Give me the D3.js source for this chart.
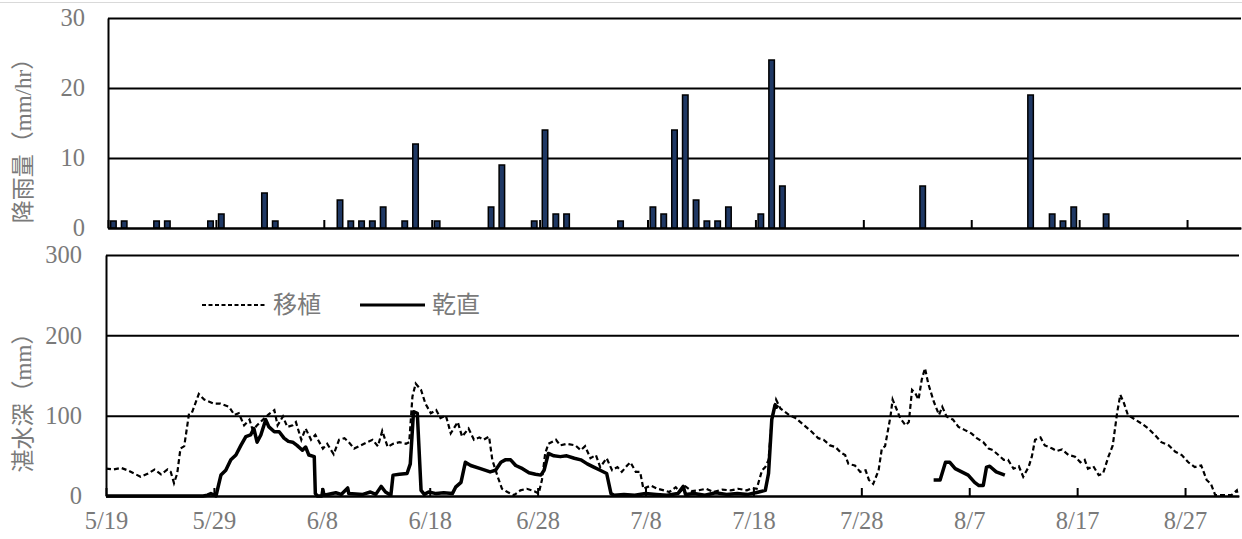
<!DOCTYPE html>
<html>
<head>
<meta charset="utf-8">
<script src="https://cdn.jsdelivr.net/npm/d3@7"></script>
<style>
  html, body { margin: 0; padding: 0; background: #fff; }
  svg { display: block; }
</style>
</head>
<body>
<svg id="chart" width="1242" height="539"></svg>
<script>
// Season year (only month/day are shown)
const year = 2019;

// Daily maximum hourly rainfall (mm/hr)
const rainDates = ['5/19','5/20','5/23','5/24','5/28','5/29','6/2','6/3','6/9','6/10',
  '6/11','6/12','6/13','6/15','6/16','6/18','6/23','6/24','6/27','6/28',
  '6/29','6/30','7/5','7/8','7/9','7/10','7/11','7/12','7/13','7/14',
  '7/15','7/18','7/19','7/20','8/2','8/12','8/14','8/15','8/16','8/19'];
const rainValues = [1,1,1,1,1,2,5,1,4,1,
  1,1,3,1,12,1,3,9,1,14,
  2,2,1,3,2,14,19,4,1,1,
  3,2,24,6,6,19,2,1,3,2];

// Date axis ticks
const tickDates = ['5/19','5/29','6/8','6/18','6/28','7/8','7/18','7/28','8/7','8/17','8/27'];

// Ponding depth (mm), time in days elapsed since 5/19 00:00
const transplantElapsed = [0,0.7,1.4,2.0,2.6,3.2,3.9,4.5,5.1,5.7,6.0,6.3,6.6,6.9,7.25,7.7,8.0,8.6,9.1,10.0,
  10.6,11.4,11.9,12.3,12.8,13.3,13.6,14.0,14.7,15.1,15.6,15.9,16.4,16.8,17.3,17.6,18.1,18.5,19.0,19.4,
  20.1,20.5,21.1,21.6,22.1,22.5,23.0,23.6,24.2,24.7,25.2,25.6,26.1,26.6,27.2,27.8,28.1,28.4,28.7,29.2,
  29.6,30.1,30.6,31.0,31.5,31.95,32.6,33.0,33.6,34.1,34.6,35.0,35.5,35.8,36.3,36.7,37.2,37.8,38.4,39.0,
  39.7,40.1,40.4,40.7,41.0,41.7,42.1,42.7,43.5,44.0,44.4,44.9,45.4,45.8,46.4,46.9,47.4,47.8,48.3,48.6,
  49.1,49.5,49.8,50.5,51.1,51.7,52.2,52.8,53.2,53.7,54.3,54.9,55.6,56.3,57.1,57.9,58.6,59.4,59.9,60.3,
  60.8,61.1,61.4,61.7,62.1,62.5,63.3,63.9,64.7,65.4,66.0,66.5,67.1,67.6,68.1,68.5,68.8,69.4,69.9,70.4,
  70.7,71.1,71.6,71.9,72.2,72.7,72.9,73.3,73.6,74.1,74.4,74.7,75.0,75.3,75.6,75.9,76.2,76.7,77.2,77.5,
  77.9,78.5,79.0,79.6,80.2,80.7,81.3,81.8,82.2,82.7,83.2,83.6,84.1,84.6,85.0,85.5,85.8,86.1,86.6,87.0,
  87.7,88.1,88.6,89.2,89.8,90.3,90.7,91.0,91.5,92.0,92.4,92.9,93.3,93.7,94.0,94.3,94.7,95.4,96.0,96.6,
  97.2,97.8,98.5,99.1,99.7,100.3,100.9,101.5,102.0,102.4,102.8,103.7,104.3,104.8,104.9];
const transplantDepth = [34,33,35,32,28,24,28,33,27,33,30,16,28,59,62,103,105,127,120,115,
  115,111,101,103,88,95,82,88,97,102,107,88,99,86,88,92,70,84,70,76,
  59,65,52,70,72,67,59,63,67,70,62,81,61,65,67,65,67,124,140,132,
  115,103,107,97,100,78,92,74,84,70,73,70,74,45,24,9,5,1,7,9,
  6,3,20,53,65,70,63,65,63,57,62,47,51,36,47,32,36,30,38,42,
  30,30,9,13,9,7,5,11,5,12,6,7,9,5,8,7,9,7,10,9,
  32,36,45,95,120,109,101,97,88,80,72,70,63,61,54,51,40,38,30,32,
  20,15,32,59,62,99,120,107,97,88,92,132,128,120,145,159,140,118,101,111,
  99,95,86,82,78,72,67,59,57,51,45,45,34,37,24,36,49,70,73,63,
  59,56,58,51,49,42,45,34,37,26,28,49,63,103,126,117,101,95,90,84,
  76,67,63,55,51,42,36,38,20,15,1,1,1,7,1];

// Dry direct seeding: null marks the gap between the two recorded periods
const directElapsed = [0,9.0,9.4,9.72,10.19,10.65,11.1,11.57,12.04,12.5,12.96,13.4,13.7,14.0,14.35,14.8,15.1,15.6,16.05,16.5,
  16.9,17.3,17.7,18.2,18.5,18.8,19.3,19.4,19.6,20.0,20.1,20.2,21.3,21.8,22.4,22.5,23.8,24.5,25.0,25.5,
  25.9,26.4,26.6,27.2,27.9,28.2,28.5,28.85,29.2,29.5,29.9,30.6,31.3,32.1,32.4,32.9,33.3,33.8,34.7,35.6,
  36.1,36.6,37.0,37.5,37.97,38.6,39.2,39.8,40.3,40.6,41.0,41.5,42.1,42.7,43.4,44.0,44.6,45.2,45.8,46.4,
  46.8,47.1,48.0,49.0,50.0,51.0,52.0,53.0,53.5,53.7,54.5,55.5,56.5,57.5,58.5,59.5,60.2,60.5,61.1,61.4,
  61.7,62.0,62.3,70.0,76.7,77.3,77.8,78.2,78.7,79.3,79.9,80.5,80.9,81.3,81.6,81.9,82.5,83.3];
const directDepth = [0,0,1,3,0,26,32,45,51,63,74,76,84,67,76,95,86,80,80,72,
  68,67,63,57,61,51,49,3,0,0,8,1,4,2,10,3,2,5,2,12,
  5,1,26,27,28,40,105,103,7,2,5,3,4,3,11,17,42,38,34,30,
  32,42,45,45,38,34,29,27,26,32,53,50,49,50,47,45,40,36,32,28,
  3,1,2,1,3,2,1,3,12,2,3,1,4,2,3,2,4,5,7,28,
  95,113,110,null,20,20,42,42,34,30,26,17,13,13,36,37,30,26];

// ---------------------------------------------------------------
const parseMD = s => d3.utcParse('%Y/%m/%d')(year + '/' + s);
const start = parseMD('5/19');
const end = parseMD('9/1');
const atElapsed = t => new Date(start.getTime() + t * 864e5);

const textColor = '#7a7a7a';
const serif = '"Liberation Serif", "Times New Roman", serif';
const mixed = '"Liberation Serif", "Noto Sans CJK JP", serif';
const cjk = '"Noto Sans CJK JP", "Noto Sans CJK SC", sans-serif';

const svg = d3.select('#chart');
svg.append('rect').attr('width', 1242).attr('height', 539).attr('fill', '#fff');
svg.append('line').attr('x1', 0).attr('x2', 1242).attr('y1', 2.5).attr('y2', 2.5)
  .attr('stroke', '#d9d9d9').attr('stroke-width', 1);

function styleAxis(g) {
  g.selectAll('path.domain').attr('stroke', '#000').attr('stroke-width', 2);
  g.selectAll('.tick line').attr('stroke', '#000').attr('stroke-width', 2);
  g.selectAll('.tick text').attr('fill', textColor).attr('font-family', serif).attr('font-size', 24.5);
}

// ---------- Rainfall panel ----------
const topP = { left: 108, right: 1241, top: 18, bottom: 228 };
const xTop = d3.scaleUtc().domain([start, end]).range([topP.left, topP.right]);
const yTop = d3.scaleLinear().domain([0, 30]).range([topP.bottom, topP.top]);

const yTopAxis = svg.append('g').attr('transform', `translate(${topP.left},0)`)
  .call(d3.axisLeft(yTop).tickValues([0, 10, 20, 30])
    .tickSizeInner(-(topP.right - topP.left)).tickSizeOuter(0).tickPadding(23));
styleAxis(yTopAxis);

const dayW = xTop(d3.utcDay.offset(start, 1)) - xTop(start);
const barW = 5.5;
svg.append('g').selectAll('rect')
  .data(rainDates.map((d, i) => ({ date: parseMD(d), v: rainValues[i] })))
  .join('rect')
  .attr('x', d => xTop(d.date) + dayW / 2 - barW / 2)
  .attr('width', barW)
  .attr('y', d => yTop(d.v))
  .attr('height', d => yTop(0) - yTop(d.v))
  .attr('fill', '#1f3864')
  .attr('stroke', '#000')
  .attr('stroke-width', 1.5);

const xTopAxis = svg.append('g').attr('transform', `translate(0,${topP.bottom})`)
  .call(d3.axisBottom(xTop).tickValues(tickDates.map(parseMD))
    .tickSizeInner(-8).tickSizeOuter(0).tickFormat(''));
styleAxis(xTopAxis);

svg.append('text')
  .attr('transform', 'translate(23,135) rotate(-90)')
  .attr('text-anchor', 'middle').attr('dy', '0.35em')
  .attr('font-family', mixed).attr('font-size', 23).attr('fill', textColor)
  .text('降雨量（mm/hr）');

// ---------- Ponding depth panel ----------
const botP = { left: 106, right: 1239, top: 255, bottom: 496 };
const xBot = d3.scaleUtc().domain([start, end]).range([botP.left, botP.right]);
const yBot = d3.scaleLinear().domain([0, 300]).range([botP.bottom, botP.top]);

const yBotAxis = svg.append('g').attr('transform', `translate(${botP.left},0)`)
  .call(d3.axisLeft(yBot).tickValues([0, 100, 200, 300])
    .tickSizeInner(-(botP.right - botP.left)).tickSizeOuter(0).tickPadding(24));
styleAxis(yBotAxis);

const line = d3.line()
  .defined(d => d.v != null)
  .x(d => xBot(atElapsed(d.t)))
  .y(d => yBot(d.v));

svg.append('path')
  .datum(transplantElapsed.map((t, i) => ({ t, v: transplantDepth[i] })))
  .attr('d', line)
  .attr('fill', 'none').attr('stroke', '#000').attr('stroke-width', 2.2)
  .attr('stroke-dasharray', '5,3');

svg.append('path')
  .datum(directElapsed.map((t, i) => ({ t, v: directDepth[i] })))
  .attr('d', line)
  .attr('fill', 'none').attr('stroke', '#000').attr('stroke-width', 3.5)
  .attr('stroke-linejoin', 'round');

const xBotAxis = svg.append('g').attr('transform', `translate(0,${botP.bottom})`)
  .call(d3.axisBottom(xBot).tickValues(tickDates.map(parseMD))
    .tickSizeInner(-8).tickSizeOuter(0).tickPadding(16)
    .tickFormat(d3.utcFormat('%-m/%-d')));
styleAxis(xBotAxis);

svg.append('text')
  .attr('transform', 'translate(23,397) rotate(-90)')
  .attr('text-anchor', 'middle').attr('dy', '0.35em')
  .attr('font-family', mixed).attr('font-size', 23).attr('fill', textColor)
  .text('湛水深（mm）');

// Legend
const legend = svg.append('g');
legend.append('line').attr('x1', 202).attr('x2', 265).attr('y1', 305).attr('y2', 305)
  .attr('stroke', '#000').attr('stroke-width', 2.2).attr('stroke-dasharray', '4,2.5');
legend.append('text').attr('x', 273).attr('y', 305).attr('dy', '0.35em')
  .attr('font-family', cjk).attr('font-size', 24).attr('fill', textColor).text('移植');
legend.append('line').attr('x1', 360).attr('x2', 425).attr('y1', 305).attr('y2', 305)
  .attr('stroke', '#000').attr('stroke-width', 3.2);
legend.append('text').attr('x', 432).attr('y', 305).attr('dy', '0.35em')
  .attr('font-family', cjk).attr('font-size', 24).attr('fill', textColor).text('乾直');
</script>
</body>
</html>
